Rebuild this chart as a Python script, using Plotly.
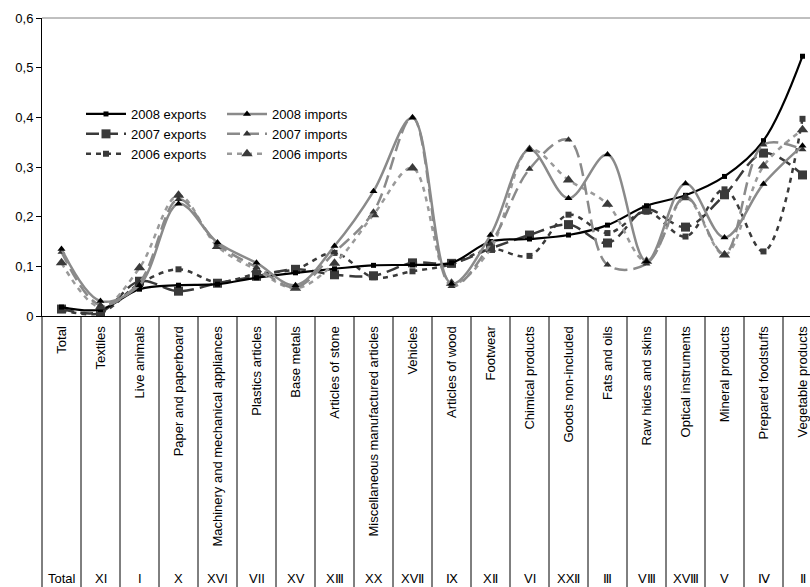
import plotly.graph_objects as go

categories = ["Total", "Textiles", "Live animals", "Paper and paperboard",
              "Machinery and mechanical appliances", "Plastics articles", "Base metals",
              "Articles of stone", "Miscellaneous manufactured articles", "Vehicles",
              "Articles of wood", "Footwear", "Chimical products", "Goods non-included",
              "Fats and oils", "Raw hides and skins", "Optical instruments",
              "Mineral products", "Prepared foodstuffs", "Vegetable products"]
roman = ["Total", "XI", "I", "X", "XVI", "VII", "XV", "XⅢ", "XX", "XVⅡ",
         "Ⅸ", "XⅡ", "VI", "XXⅡ", "Ⅲ", "VⅢ", "XVⅢ", "V", "Ⅳ", "Ⅱ"]

exp_2008 = [0.018, 0.013, 0.054, 0.062, 0.064, 0.077, 0.087, 0.095, 0.102, 0.103,
            0.107, 0.150, 0.155, 0.163, 0.183, 0.222, 0.243, 0.281, 0.353, 0.523]
exp_2007 = [0.014, 0.008, 0.070, 0.050, 0.066, 0.080, 0.094, 0.083, 0.081, 0.107,
            0.106, 0.136, 0.163, 0.184, 0.147, 0.214, 0.179, 0.244, 0.328, 0.284]
exp_2006 = [0.012, 0.006, 0.065, 0.094, 0.068, 0.085, 0.094, 0.127, 0.078, 0.090,
            0.104, 0.135, 0.121, 0.204, 0.167, 0.210, 0.160, 0.255, 0.130, 0.397]
imp_2008 = [0.135, 0.030, 0.062, 0.226, 0.148, 0.107, 0.062, 0.141, 0.251, 0.399,
            0.065, 0.163, 0.335, 0.237, 0.325, 0.110, 0.267, 0.158, 0.266, 0.343]
imp_2007 = [0.129, 0.022, 0.068, 0.235, 0.145, 0.098, 0.058, 0.128, 0.210, 0.400,
            0.060, 0.145, 0.296, 0.355, 0.103, 0.105, 0.240, 0.125, 0.345, 0.335]
imp_2006 = [0.107, 0.018, 0.097, 0.243, 0.140, 0.093, 0.056, 0.106, 0.204, 0.298,
            0.066, 0.135, 0.335, 0.274, 0.225, 0.110, 0.238, 0.123, 0.302, 0.375]

y_ticks = [0, 0.1, 0.2, 0.3, 0.4, 0.5, 0.6]
y_tick_labels = ["0", "0,1", "0,2", "0,3", "0,4", "0,5", "0,6"]

FONT = "Liberation Sans, Arial, sans-serif"
x = list(range(len(categories)))

series = [
    # name, values, line colour, width, dash, marker symbol, size, marker colour, legend
    ("2008 exports", exp_2008, "#000000", 2.2, "solid", "square", 5, "#000000", "legend"),
    ("2008 imports", imp_2008, "#8a8a8a", 2.5, "solid", "triangle-up", 7, "#000000", "legend2"),
    ("2007 exports", exp_2007, "#3a3a3a", 2.5, "13px,6px", "square", 9, "#3a3a3a", "legend"),
    ("2007 imports", imp_2007, "#8a8a8a", 2.5, "13px,6px", "triangle-up", 7, "#333333", "legend2"),
    ("2006 exports", exp_2006, "#3a3a3a", 2.5, "5px,5px", "square", 6, "#3a3a3a", "legend"),
    ("2006 imports", imp_2006, "#9a9a9a", 2.5, "5px,5px", "triangle-up", 10, "#3a3a3a", "legend2"),
]

fig = go.Figure()
order = [4, 2, 0, 5, 3, 1]
for idx in order:
    name, vals, lc, lw, dash, sym, ms, mc, lg = series[idx]
    fig.add_trace(go.Scatter(
        x=x, y=vals, name=name, mode="lines+markers",
        line=dict(color=lc, width=lw, dash=dash, shape="spline", smoothing=1.0),
        marker=dict(symbol=sym, size=ms, color=mc, line=dict(width=0)),
        legend=lg, legendrank=[0, 0, 1, 1, 2, 2][idx],
    ))

W, H = 810, 587
ML, MT, MB = 42, 18, 271
PH = H - MT - MB  # 298
XR = [-0.5, -0.5 + 768 / 39]

shapes = []
bottom = -MB / PH - 0.02
for i in range(len(categories) - 1):
    shapes.append(dict(type="line", xref="x", yref="paper", x0=i + 0.5, x1=i + 0.5,
                       y0=0, y1=bottom, line=dict(color="#000000", width=1)))
shapes.append(dict(type="line", xref="paper", yref="paper", x0=0, x1=0, y0=0, y1=bottom,
                   line=dict(color="#000000", width=1)))
shapes.append(dict(type="line", xref="paper", yref="paper", x0=0, x1=1.01, y0=1, y1=1,
                   line=dict(color="#808080", width=1)))

annotations = []
for i, r in enumerate(roman):
    annotations.append(dict(x=(i - XR[0]) / (XR[1] - XR[0]), y=(316 - 578) / PH,
                            xref="paper", yref="paper",
                            text=r, showarrow=False, xanchor="center", yanchor="middle",
                            font=dict(family=FONT, size=13, color="#000000")))

fig.update_layout(
    width=W, height=H,
    margin=dict(l=ML, r=0, t=MT, b=MB, autoexpand=False),
    paper_bgcolor="#ffffff", plot_bgcolor="#ffffff",
    font=dict(family=FONT, size=13, color="#000000"),
    showlegend=True,
    legend=dict(x=(81 - 42) / 768, y=(316 - 99) / PH, xanchor="left", yanchor="top",
                bgcolor="rgba(0,0,0,0)", font=dict(family=FONT, size=13, color="#000000"),
                tracegroupgap=0, itemwidth=40),
    legend2=dict(x=(222 - 42) / 768, y=(316 - 99) / PH, xanchor="left", yanchor="top",
                 bgcolor="rgba(0,0,0,0)", font=dict(family=FONT, size=13, color="#000000"),
                 tracegroupgap=0, itemwidth=40),
    xaxis=dict(range=XR, tickmode="array", tickvals=x,
               ticktext=categories, tickangle=-90, showgrid=False, zeroline=False,
               showline=True, linecolor="#000000", linewidth=1, ticks="",
               ticklabelstandoff=4, automargin=False, ticklabeloverflow="allow",
               tickfont=dict(family=FONT, size=13, color="#000000")),
    yaxis=dict(range=[0, 0.6], tickmode="array", tickvals=y_ticks, ticktext=y_tick_labels,
               showgrid=False, zeroline=False, showline=True, linecolor="#000000",
               linewidth=1, ticks="outside", ticklen=5, tickcolor="#000000",
               automargin=False,
               tickfont=dict(family=FONT, size=13, color="#000000")),
    shapes=shapes, annotations=annotations,
)

fig.write_html(
    "out.html",
    config={"displayModeBar": False},
    post_script="document.body.style.margin='0';document.body.style.overflow='hidden';",
)
